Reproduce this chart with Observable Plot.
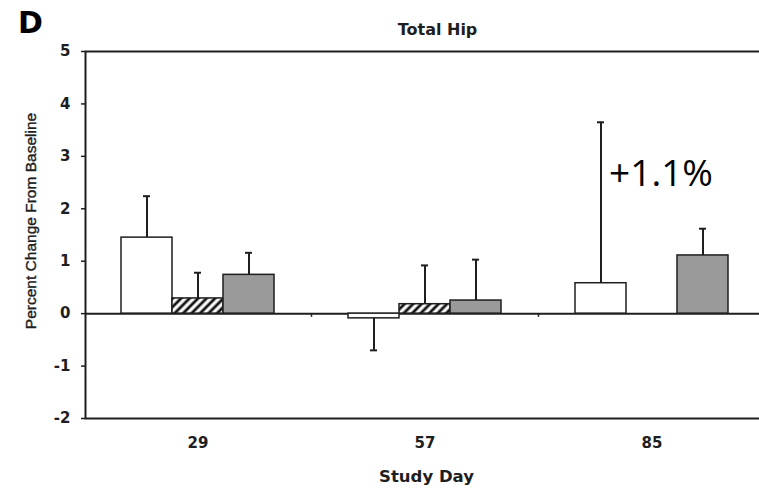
<!DOCTYPE html>
<html>
<head>
<meta charset="utf-8">
<script src="https://cdn.jsdelivr.net/npm/d3@7"></script>
<script src="https://cdn.jsdelivr.net/npm/@observablehq/plot@0.6"></script>
<style>
  html, body { margin: 0; padding: 0; background: white; overflow: hidden; }
  #chart svg g[aria-label="x-axis tick label"] text,
  #chart svg g[aria-label="y-axis tick label"] text,
  #chart svg g[aria-label="x-axis tick label"],
  #chart svg g[aria-label="y-axis tick label"] { font-size: 15px; font-weight: bold; font-family: "DejaVu Sans"; }
</style>
</head>
<body>
<div id="chart"></div>
<script>
// ---- data ----
const days = ["29", "57", "85"];
const groups = ["open", "hatched", "gray"];
const openMean = [1.45, -0.09, 0.58];
const openErr = [0.79, 0.61, 3.07];
const hatchedMean = [0.29, 0.18, null];
const hatchedErr = [0.49, 0.74, null];
const grayMean = [0.74, 0.25, 1.11];
const grayErr = [0.42, 0.78, 0.51];
const yTicks = [-2, -1, 0, 1, 2, 3, 4, 5];
const annotation = {day: "85", value: 2.67, label: "+1.1%"};

const means = {open: openMean, hatched: hatchedMean, gray: grayMean};
const errs = {open: openErr, hatched: hatchedErr, gray: grayErr};
const rows = [];
for (const g of groups) {
  days.forEach((d, i) => {
    const v = means[g][i];
    if (v == null) return;
    const e = errs[g][i];
    rows.push({day: d, group: g, value: v, end: v + Math.sign(v) * e});
  });
}
const of = g => rows.filter(r => r.group === g);

const ink = "#1e1e1e";
const BW = 51; // one bar's width within the 153px group band

function groupMarks(g, fill, insetLeft, insetRight, dx) {
  return [
    Plot.barY(of(g), {x: "day", y: "value", fill, stroke: ink, strokeWidth: 1.5, insetLeft, insetRight}),
    Plot.ruleX(of(g), {x: "day", y1: "value", y2: "end", dx, stroke: ink, strokeWidth: 2}),
    Plot.tickY(of(g), {x: "day", y: "end", dx, stroke: ink, strokeWidth: 2, insetLeft: 73, insetRight: 73})
  ];
}

const svg = Plot.plot({
  width: 759,
  height: 488,
  marginLeft: 85,
  marginRight: 0,
  marginTop: 51,
  marginBottom: 70,
  style: {fontFamily: "DejaVu Sans", fontWeight: "bold", fontSize: "14px", color: ink, background: "white"},
  x: {domain: days, range: [84, 765], paddingInner: 0.326, paddingOuter: 0.163},
  y: {domain: [-2, 5]},
  marks: [
    Plot.frame({stroke: ink, strokeWidth: 2, insetRight: -20}),
    Plot.axisX({tickSize: 0, tickPadding: 19, fontSize: 15, label: null}),
    Plot.axisY({ticks: yTicks, tickFormat: d => String(d), tickSize: 4, tickPadding: 11, fontSize: 15, label: null, stroke: ink, strokeWidth: 1.5}),
    Plot.ruleY([0], {stroke: ink, strokeWidth: 2}),
    Plot.ruleX(days.slice(0, 2), {x: d => d, dx: 113.5, y1: 0, y2: -0.07, stroke: ink, strokeWidth: 1.5}),
    ...groupMarks("open", "white", 0, 2 * BW, -BW),
    ...groupMarks("hatched", "url(#hatch)", BW, BW, 0),
    ...groupMarks("gray", "#9a9a9a", 2 * BW, 0, BW),
    Plot.text([annotation], {x: "day", y: "value", text: "label", dx: 9, fontSize: 37, fontFamily: "Open Sans", fontWeight: "normal", fill: "black"}),
    Plot.text(["D"], {frameAnchor: "top-left", dx: -55, dy: -40, textAnchor: "middle", fontSize: 30, fill: "black"}),
    Plot.text(["Total Hip"], {frameAnchor: "top", dx: 15, dy: -28, fontSize: 16, fill: ink}),
    Plot.text(["Study Day"], {frameAnchor: "bottom", dx: 4, dy: 63, fontSize: 16.5, fill: ink}),
    Plot.text(["Percent Change From Baseline"], {frameAnchor: "left", dx: -54, dy: -14, rotate: -90, textAnchor: "middle", fontSize: 15.5, fontFamily: "Liberation Sans", fontWeight: "normal", fill: ink, stroke: ink, strokeWidth: 0.4})
  ]
});

const ns = "http://www.w3.org/2000/svg";
const defs = document.createElementNS(ns, "defs");
defs.innerHTML = '<pattern id="hatch" width="6" height="6" patternUnits="userSpaceOnUse" patternTransform="rotate(45)">' +
  '<rect width="6" height="6" fill="white"></rect>' +
  '<line x1="3" y1="-1" x2="3" y2="7" stroke="#111" stroke-width="2.8"></line></pattern>';
svg.insertBefore(defs, svg.firstChild);
document.getElementById("chart").appendChild(svg);
</script>
</body>
</html>
